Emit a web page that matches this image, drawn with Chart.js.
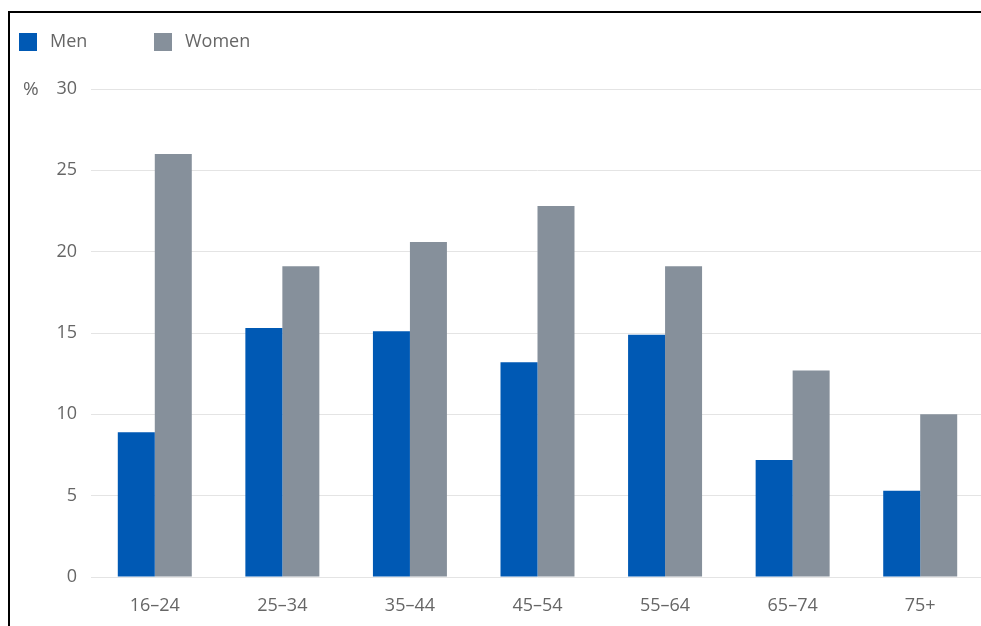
<!DOCTYPE html>
<html>
<head>
<meta charset="utf-8">
<script src="https://cdn.jsdelivr.net/npm/chart.js@4/dist/chart.umd.min.js"></script>
<style>
  html, body { margin: 0; padding: 0; background: #fff; overflow: hidden; }
  #wrap { position: relative; width: 981px; height: 626px; overflow: hidden; }
  #frame { position: absolute; left: 8px; top: 11px; right: 0; bottom: 0;
           border-top: 2px solid #000; border-left: 2px solid #000; pointer-events: none; }
  canvas { display: block; }
</style>
</head>
<body>
<div id="wrap">
  <canvas id="chart" width="984" height="626"></canvas>
  <div id="frame"></div>
</div>
<script>
// Age groups and shares (%) by sex
const ageGroups = ['16–24', '25–34', '35–44', '45–54', '55–64', '65–74', '75+'];
const men   = [8.9, 15.3, 15.1, 13.2, 14.9, 7.2, 5.3];
const women = [26.0, 19.1, 20.6, 22.8, 19.1, 12.7, 10.0];
const yTicks = [0, 5, 10, 15, 20, 25, 30];
const unitLabel = '%';

const BLUE = '#0059b4';
const GREY = '#86909b';
const TEXT = '#666666';
const FONT = "'Open Sans', sans-serif";

// Legend row and unit label drawn above the plot
const topLabels = {
  id: 'topLabels',
  afterDraw(chart) {
    const ctx = chart.ctx;
    ctx.save();
    ctx.font = '18px ' + FONT;
    ctx.textBaseline = 'middle';
    ctx.textAlign = 'left';
    const items = [
      { x: 19,  ds: chart.data.datasets[0] },
      { x: 154, ds: chart.data.datasets[1] }
    ];
    items.forEach(it => {
      ctx.fillStyle = it.ds.backgroundColor;
      ctx.fillRect(it.x, 33, 18, 18);
      ctx.fillStyle = TEXT;
      ctx.fillText(it.ds.label, it.x + 31, 42);
    });
    ctx.font = '19px ' + FONT;
    ctx.fillText(unitLabel, 23, chart.scales.y.getPixelForValue(30) + 1);
    ctx.restore();
  }
};

new Chart(document.getElementById('chart'), {
  type: 'bar',
  data: {
    labels: ageGroups,
    datasets: [
      { label: 'Men', data: men, backgroundColor: BLUE },
      { label: 'Women', data: women, backgroundColor: GREY }
    ]
  },
  options: {
    responsive: false,
    animation: false,
    layout: { padding: { top: 89, right: 0, bottom: 0, left: 0 } },
    plugins: { legend: { display: false }, tooltip: { enabled: false } },
    datasets: { bar: { categoryPercentage: 0.58, barPercentage: 1.0 } },
    scales: {
      x: {
        grid: { display: false, drawTicks: false },
        border: { display: false },
        ticks: { color: TEXT, font: { family: FONT, size: 18 }, padding: 18, maxRotation: 0 },
        afterFit(scale) { scale.height = 49; }
      },
      y: {
        min: 0, max: 30,
        afterBuildTicks(scale) { scale.ticks = yTicks.map(v => ({ value: v })); },
        grid: { color: '#e4e4e4', lineWidth: 1, drawTicks: false },
        border: { display: false },
        ticks: { color: TEXT, font: { family: FONT, size: 18 }, padding: 14 },
        afterFit(scale) { scale.width = 91; }
      }
    }
  },
  plugins: [topLabels]
});
</script>
</body>
</html>
